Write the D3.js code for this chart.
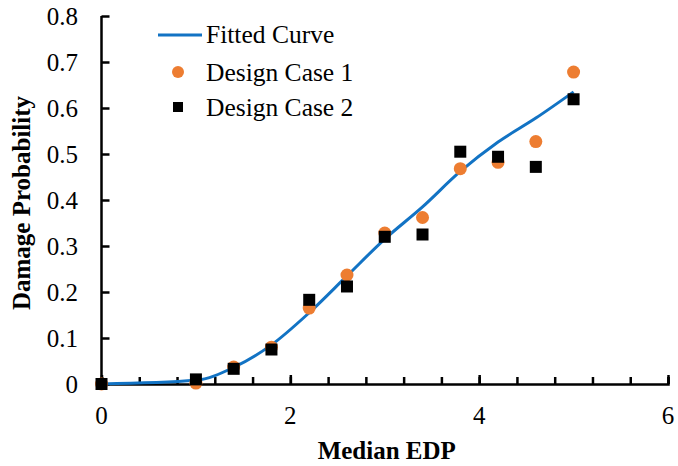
<!DOCTYPE html>
<html><head><meta charset="utf-8">
<script src="https://cdn.jsdelivr.net/npm/d3@7"></script>
<style>body{margin:0;background:#fff}svg{display:block}</style>
</head><body>
<svg id="c" width="678" height="466"></svg>
<script>
const xValues = [0, 1.0, 1.4, 1.8, 2.2, 2.6, 3.0, 3.4, 3.8, 4.2, 4.6, 5.0];
const fittedCurve = [0, 0.008, 0.036, 0.085, 0.155, 0.235, 0.315, 0.385, 0.462, 0.526, 0.578, 0.635];
const designCase1 = [0, 0.002, 0.037, 0.08, 0.165, 0.237, 0.328, 0.362, 0.468, 0.482, 0.527, 0.678];
const designCase2 = [0, 0.01, 0.033, 0.075, 0.183, 0.212, 0.32, 0.325, 0.505, 0.494, 0.472, 0.619];
const xMajorTicks = [0, 2, 4, 6];
const xMinorTicks = d3.range(0, 6.001, 0.4);
const yTicks = [0, 0.1, 0.2, 0.3, 0.4, 0.5, 0.6, 0.7, 0.8];
const seriesNames = ["Fitted Curve", "Design Case 1", "Design Case 2"];
const xTitle = "Median EDP", yTitle = "Damage Probability";

const svg = d3.select("#c");
const x = d3.scaleLinear().domain([0, 6]).range([101.5, 668]);
const y = d3.scaleLinear().domain([0, 0.8]).range([384, 16]);
const serif = "'Liberation Serif','Times New Roman',serif";

// axes
const yAxis = svg.append("g").attr("transform", `translate(${x(0)},0)`)
  .call(d3.axisRight(y).tickValues(yTicks).tickSize(8).tickFormat(""));
yAxis.select(".domain").attr("d", `M0,${y(0.8)}V${y(0)}`);
const xMinor = svg.append("g").attr("transform", `translate(0,${y(0)})`)
  .call(d3.axisTop(x).tickValues(xMinorTicks).tickSize(7).tickFormat(""));
const xMajor = svg.append("g").attr("transform", `translate(0,${y(0)})`)
  .call(d3.axisTop(x).tickValues(xMajorTicks).tickSize(9).tickFormat(""));
xMajor.select(".domain").remove();
svg.selectAll(".domain").attr("stroke", "#000").attr("stroke-width", 2.5);
svg.selectAll(".tick line").attr("stroke", "#000").attr("stroke-width", 2.5);

// tick labels
svg.append("g").selectAll("text").data(yTicks).join("text")
  .attr("x", 78).attr("y", d => y(d)).attr("dy", "0.35em")
  .attr("text-anchor", "end").attr("font-family", serif).attr("font-size", 25)
  .text(d => d === 0 ? "0" : d3.format(".1f")(d));
svg.append("g").selectAll("text").data(xMajorTicks).join("text")
  .attr("x", d => x(d)).attr("y", 424)
  .attr("text-anchor", "middle").attr("font-family", serif).attr("font-size", 25)
  .text(d => d);

// titles
svg.append("text").attr("x", x(3.0) + 2).attr("y", 459).attr("text-anchor", "middle")
  .attr("font-family", serif).attr("font-weight", "bold").attr("font-size", 25).text(xTitle);
svg.append("text").attr("transform", "translate(30,203) rotate(-90)").attr("text-anchor", "middle")
  .attr("font-family", serif).attr("font-weight", "bold").attr("font-size", 25).text(yTitle);

// fitted curve
const pts = xValues.map((d, i) => [d, fittedCurve[i]]);
svg.append("path").datum(pts)
  .attr("fill", "none").attr("stroke", "#1273C4").attr("stroke-width", 3)
  .attr("d", d3.line().x(d => x(d[0])).y(d => y(d[1])).curve(d3.curveMonotoneX));

// design case 1
svg.append("g").selectAll("circle").data(xValues).join("circle")
  .attr("cx", d => x(d)).attr("cy", (d, i) => y(designCase1[i])).attr("r", 6.5)
  .attr("fill", "#ED7D31");
// design case 2
const s = 12;
svg.append("g").selectAll("rect").data(xValues).join("rect")
  .attr("x", d => x(d) - s / 2).attr("y", (d, i) => y(designCase2[i]) - s / 2)
  .attr("width", s).attr("height", s).attr("fill", "#000");

// legend
const lg = svg.append("g");
lg.append("line").attr("x1", 158).attr("x2", 202).attr("y1", 35).attr("y2", 35)
  .attr("stroke", "#1273C4").attr("stroke-width", 3);
lg.append("circle").attr("cx", 178).attr("cy", 72).attr("r", 6).attr("fill", "#ED7D31");
lg.append("rect").attr("x", 173).attr("y", 102).attr("width", 10).attr("height", 10).attr("fill", "#000");
const ly = [43, 81, 116];
lg.selectAll("text").data(seriesNames).join("text")
  .attr("x", 206).attr("y", (d, i) => ly[i])
  .attr("font-family", serif).attr("font-size", 25.5).text(d => d);
</script>
</body></html>
